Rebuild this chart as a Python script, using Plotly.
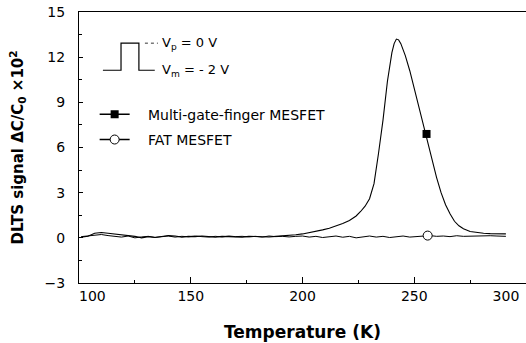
import plotly.graph_objects as go

# ---- data ----
mg_T = [101, 104, 107, 110, 113, 116, 119, 122, 125, 128, 131, 134, 137, 140, 143, 146, 149,
        152, 155, 158, 161, 164, 167, 170, 173, 176, 179, 182, 185, 188, 191, 194, 197,
        200, 203, 206, 209, 212, 215, 218, 221, 224, 226, 228, 230, 232, 234, 236, 238,
        240, 241, 242, 243, 244, 245, 246, 248, 250, 252, 254, 256, 258, 260, 262, 264,
        266, 268, 270, 272, 275, 278, 281, 284, 287, 291]
mg_S = [0.05, 0.1, 0.3, 0.35, 0.3, 0.25, 0.2, 0.15, 0.1, 0.0, 0.08, 0.02, 0.1, 0.15, 0.12, 0.05, 0.1,
        0.08, 0.12, 0.1, 0.05, 0.1, 0.08, 0.1, 0.05, 0.1, 0.08, 0.1, 0.06, 0.1, 0.12, 0.15, 0.2,
        0.26, 0.34, 0.44, 0.53, 0.64, 0.78, 0.95, 1.15, 1.45, 1.75, 2.1, 2.6, 3.6, 5.6, 7.8, 10.4,
        12.3, 12.9, 13.2, 13.15, 12.9, 12.5, 12.1, 11.1, 9.9, 8.7, 7.6, 6.5, 5.2, 4.0, 3.0, 2.2,
        1.6, 1.1, 0.8, 0.6, 0.42, 0.34, 0.3, 0.28, 0.27, 0.26]

fat_T = [101, 104, 107, 110, 113, 116, 119, 122, 125, 128, 131, 134, 137, 140, 143, 146, 149,
         152, 155, 158, 161, 164, 167, 170, 173, 176, 179, 182, 185, 188, 191, 194, 197,
         200, 203, 206, 209, 212, 215, 218, 221, 224, 227, 230, 233, 236, 239, 242, 245,
         248, 251, 254, 257, 260, 263, 266, 269, 272, 275, 278, 281, 284, 287, 291]
fat_S = [0.08, 0.12, 0.2, 0.22, 0.15, 0.1, 0.05, 0.12, 0.0, 0.06, 0.1, 0.03, 0.08, 0.12, 0.05, 0.1, 0.07,
         0.12, 0.08, 0.05, 0.1, 0.06, 0.12, 0.08, 0.1, 0.06, 0.1, 0.05, 0.12, 0.08, 0.1, 0.06, 0.1,
         0.12, 0.05, 0.1, 0.02, 0.08, 0.12, 0.04, 0.1, 0.0, 0.08, 0.12, 0.05, 0.1, 0.02, 0.08, 0.12,
         0.05, 0.1, 0.12, 0.15, 0.1, 0.12, 0.08, 0.14, 0.1, 0.12, 0.15, 0.12, 0.14, 0.12, 0.1]

mg_mark_T, mg_mark_S = [255.5], [6.9]
fat_mark_T, fat_mark_S = [256], [0.15]

mg_name = "Multi-gate-finger MESFET"
fat_name = "FAT MESFET"
x_ticks = [100, 150, 200, 250, 300]
y_ticks = [-3, 0, 3, 6, 9, 12, 15]

NB = "\u00a0"
FONT = "DejaVu Sans, Liberation Sans, Arial, sans-serif"

fig = go.Figure()
fig.add_trace(go.Scatter(x=mg_T, y=mg_S, mode="lines", line=dict(color="black", width=1.1),
                         showlegend=False))
fig.add_trace(go.Scatter(x=fat_T, y=fat_S, mode="lines", line=dict(color="black", width=1),
                         showlegend=False))
fig.add_trace(go.Scatter(x=mg_mark_T, y=mg_mark_S, mode="markers",
                         marker=dict(symbol="square", size=8, color="black"), showlegend=False))
fig.add_trace(go.Scatter(x=fat_mark_T, y=fat_mark_S, mode="markers",
                         marker=dict(symbol="circle", size=9, color="white",
                                     line=dict(color="black", width=1)), showlegend=False))
# legend entries
fig.add_trace(go.Scatter(x=[None], y=[None], mode="lines+markers", name=NB * 3 + mg_name,
                         line=dict(color="black", width=1.5),
                         marker=dict(symbol="square", size=8, color="black"), legendgroup="a"))
fig.add_trace(go.Scatter(x=[None], y=[None], mode="lines+markers", name=NB * 3 + fat_name,
                         line=dict(color="black", width=1.5),
                         marker=dict(symbol="circle", size=9, color="white",
                                     line=dict(color="black", width=1)), legendgroup="b"))

# pulse sketch (data coordinates)
fig.add_shape(type="path", xref="x", yref="y",
              path="M 110.7 11.13 L 118.8 11.13 L 118.8 12.93 L 126.8 12.93 L 126.8 11.13 L 133.9 11.13",
              line=dict(color="black", width=1.2))
fig.add_shape(type="line", xref="x", yref="y", x0=129.5, x1=135.3, y0=12.93, y1=12.93,
              line=dict(color="black", width=0.8, dash="dot"))

fig.add_annotation(x=136.4, y=12.93, xref="x", yref="y", xanchor="left", yanchor="middle",
                   text="V<sub>p</sub> = 0 V", showarrow=False,
                   font=dict(family=FONT, size=13, color="black"))
fig.add_annotation(x=136.4, y=11.13, xref="x", yref="y", xanchor="left", yanchor="middle",
                   text="V<sub>m</sub> = - 2 V", showarrow=False,
                   font=dict(family=FONT, size=13, color="black"))

# axis titles
fig.add_annotation(x=-0.137, y=0.499, xref="paper", yref="paper", textangle=-90,
                   text="<b>DLTS signal ΔC/C<sub>0</sub> ×10<sup>2</sup></b>", showarrow=False,
                   xanchor="center", yanchor="middle",
                   font=dict(family=FONT, size=15, color="black"))
fig.add_annotation(x=0.5, y=-0.18, xref="paper", yref="paper",
                   text="<b>Temperature (K)</b>", showarrow=False,
                   xanchor="center", yanchor="middle",
                   font=dict(family=FONT, size=17, color="black"))

x_text = [NB * 6 + "100", "150", "200", "250", "300" + NB * 9]

fig.update_layout(
    width=526, height=343,
    margin=dict(l=79, r=0, t=12, b=60),
    paper_bgcolor="white", plot_bgcolor="white",
    font=dict(family=FONT, size=14, color="black"),
    legend=dict(x=0.035, y=0.68, xanchor="left", yanchor="top", bgcolor="rgba(0,0,0,0)",
                font=dict(family=FONT, size=14, color="black"), tracegroupgap=4),
    xaxis=dict(range=[100, 300], tickvals=x_ticks, ticktext=x_text, ticks="inside", ticklen=6,
               tickwidth=1, tickcolor="black", showline=True, linecolor="black", linewidth=1.2,
               mirror=True, showgrid=False, zeroline=False, ticklabeloverflow="allow",
               automargin=False, tickfont=dict(family=FONT, size=14),
               minor=dict(dtick=25, ticks="inside", ticklen=3, tickcolor="black", showgrid=False)),
    yaxis=dict(range=[-3, 15], tickvals=y_ticks, ticks="inside", ticklen=4, tickwidth=1,
               tickcolor="black", showline=True, linecolor="black", linewidth=1.2,
               showgrid=False, zeroline=False, ticklabelstandoff=10, automargin=False,
               tickfont=dict(family=FONT, size=14),
               minor=dict(dtick=1.5, ticks="inside", ticklen=3, tickcolor="black", showgrid=False)),
)

fig.write_html("out.html")
